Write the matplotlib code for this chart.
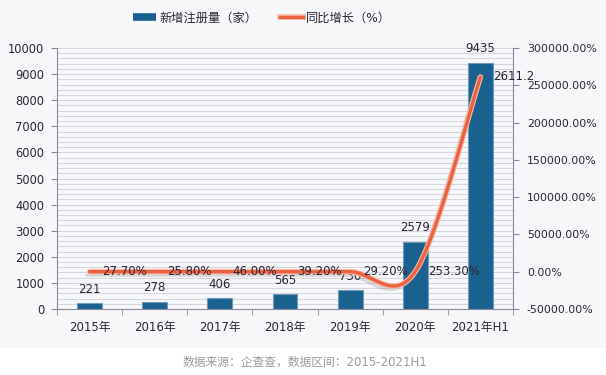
import numpy as np
import matplotlib
matplotlib.use("Agg")
import matplotlib.pyplot as plt
from matplotlib.lines import Line2D
from matplotlib.patches import Rectangle
import matplotlib.patheffects as pe

plt.rcParams['font.family'] = ['DejaVu Sans', 'Noto Sans CJK SC']

categories = ['2015年', '2016年', '2017年', '2018年', '2019年', '2020年', '2021年H1']
registrations = [221, 278, 406, 565, 730, 2579, 9435]
growth_pct = [27.7, 25.8, 46.0, 39.2, 29.2, 253.3, 261120.0]
growth_labels = ['27.70%', '25.80%', '46.00%', '39.20%', '29.20%', '253.30%', '2611.2']
legend_labels = ['新增注册量（家）', '同比增长（%）']
caption = '数据来源：企查查，数据区间：2015-2021H1'

bar_color = '#1b6190'
line_color = '#ea6240'
axis_color = '#8f87a0'
text_color = '#2e2436'

W, H = 606, 375
fig = plt.figure(figsize=(W / 100, H / 100), dpi=100)
fig.patch.set_facecolor('white')
fig.patches.append(Rectangle((0, 1 - 348 / H), 1, 348 / H, transform=fig.transFigure,
                             facecolor='#f6f7f9', edgecolor='none', zorder=-10))

ax = fig.add_axes([57 / W, 1 - 309 / H, (513 - 57) / W, (309 - 48) / H])
ax.set_facecolor('none')
x = np.arange(len(categories))
bars = ax.bar(x, registrations, width=0.38, color=bar_color, edgecolor='#6f9bbb',
              linewidth=0.8, zorder=3)
ax.set_xlim(-0.5, len(categories) - 0.5)
ax.set_ylim(0, 10000)
ax.set_yticks(np.arange(0, 10001, 1000))
ax.set_yticks(np.arange(0, 10001, 200), minor=True)
ax.grid(axis='y', which='both', color='#d0cfd8', linewidth=0.6, zorder=0)
ax.set_xticks(x)
ax.set_xticklabels(categories, fontsize=8.5, color=text_color)
ax.set_xticks(np.arange(-0.5, len(categories), 1), minor=True)
ax.tick_params(axis='x', which='major', length=0, pad=9)
ax.tick_params(axis='x', which='minor', length=4, color=axis_color)
ax.tick_params(axis='y', which='major', length=4, color=axis_color, labelsize=8.3,
               labelcolor=text_color, pad=5)
ax.tick_params(axis='y', which='minor', length=0)
for s in ['top', 'right']:
    ax.spines[s].set_visible(False)
for s in ['left', 'bottom']:
    ax.spines[s].set_color(axis_color)

for xi, v in zip(x, registrations):
    ax.annotate(str(v), (xi, v), xytext=(0, 10), textcoords='offset points',
                ha='center', va='center', fontsize=8.5, color=text_color, zorder=6)

ax2 = ax.twinx()
ax2.set_ylim(-50000, 300000)
ax2.set_yticks(np.arange(-50000, 300001, 50000))
ax2.set_yticklabels([f'{t:.2f}%' for t in np.arange(-50000, 300001, 50000)])
ax2.tick_params(axis='y', length=4, color=axis_color, labelsize=7.9,
                labelcolor=text_color, pad=6)
for s in ['top', 'left', 'bottom']:
    ax2.spines[s].set_visible(False)
ax2.spines['right'].set_color(axis_color)

# Excel-like smoothed line (Catmull-Rom as cubic Bezier)
px = x.astype(float)
py = np.array(growth_pct, dtype=float)
n = len(px)
sx, sy = [], []
t = np.linspace(0, 1, 40)
for i in range(n - 1):
    p0 = max(i - 1, 0)
    p3 = min(i + 2, n - 1)
    c1x = px[i] + (px[i + 1] - px[p0]) / 6
    c1y = py[i] + (py[i + 1] - py[p0]) / 6
    c2x = px[i + 1] - (px[p3] - px[i]) / 6
    c2y = py[i + 1] - (py[p3] - py[i]) / 6
    bx = (1 - t) ** 3 * px[i] + 3 * (1 - t) ** 2 * t * c1x + 3 * (1 - t) * t ** 2 * c2x + t ** 3 * px[i + 1]
    by = (1 - t) ** 3 * py[i] + 3 * (1 - t) ** 2 * t * c1y + 3 * (1 - t) * t ** 2 * c2y + t ** 3 * py[i + 1]
    sx.extend(bx)
    sy.extend(by)
ax2.plot(sx, sy, color=line_color, linewidth=2.4, solid_capstyle='round', zorder=4,
         path_effects=[pe.SimpleLineShadow(offset=(-2, -2.5), shadow_color='#808080', alpha=0.25),
                       pe.Stroke(linewidth=4.0, foreground='#f6b8a4'), pe.Normal()])

for xi, v, lab in zip(x, growth_pct, growth_labels):
    ax2.annotate(lab, (xi, v), xytext=(9, 0), textcoords='offset points',
                 ha='left', va='center', fontsize=8.5, color=text_color, zorder=6)

handles = [Line2D([], [], color=bar_color, linewidth=5.5, solid_capstyle='butt'),
           Line2D([], [], color=line_color, linewidth=2.4,
                  path_effects=[pe.Stroke(linewidth=4.0, foreground='#f6b8a4'), pe.Normal()])]
fig.legend(handles, legend_labels, loc='center', bbox_to_anchor=(262 / W, 1 - 18 / H),
           ncol=2, frameon=False, fontsize=8.8, handlelength=1.9, handletextpad=0.3,
           columnspacing=1.8, labelcolor=text_color)

fig.text(305 / W, 1 - 362 / H, caption, ha='center', va='center', fontsize=8.5,
         color='#9b9b9b')

fig.savefig('out.png', dpi=100, facecolor=fig.get_facecolor())
